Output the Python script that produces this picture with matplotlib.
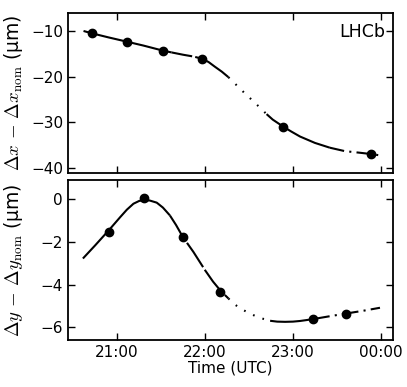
import numpy as np
import matplotlib
matplotlib.rcParams['font.family'] = 'sans-serif'
matplotlib.rcParams['font.sans-serif'] = ['DejaVu Sans']
matplotlib.rcParams['mathtext.fontset'] = 'cm'
matplotlib.rcParams['mathtext.default'] = 'it'
import matplotlib.pyplot as plt

# time in hours (UTC), 24 = 00:00 next day
# measured points
tx = [20.71, 21.11, 21.52, 21.97, 22.89, 23.886]
dx = [-10.5, -12.34, -14.3, -16.1, -30.95, -36.93]
ty = [20.906, 21.307, 21.747, 22.174, 23.23, 23.60]
dy = [-1.54, 0.05, -1.78, -4.33, -5.62, -5.38]

# fitted curves
cx_t = [20.617, 20.71, 20.90, 21.11, 21.30, 21.52, 21.62, 21.75, 21.87, 21.97,
        22.04, 22.11, 22.19, 22.265, 22.36, 22.455, 22.55, 22.62, 22.70, 22.77,
        22.89, 22.98, 23.08, 23.25, 23.42, 23.59, 23.76, 23.886, 23.98]
cx_v = [-10.0, -10.5, -11.4, -12.34, -13.2, -14.3, -14.7, -15.2, -15.6, -16.1,
        -16.8, -17.8, -18.9, -20.1, -21.9, -23.7, -25.4, -26.7, -28.2, -29.4,
        -30.95, -32.0, -33.1, -34.5, -35.55, -36.3, -36.65, -36.93, -37.2]
cx_seg = [(20.617, 21.62, '-'), (21.62, 21.97, (0, (10, 1.5))),
          (21.97, 22.265, '-'), (22.265, 22.70, (0, (0.8, 4))),
          (22.70, 23.42, '-'), (23.42, 23.98, (0, (7, 2.5, 1, 2.5)))]

cy_t = [20.61, 20.75, 20.91, 21.034, 21.11, 21.185, 21.25, 21.307, 21.37,
        21.45, 21.52, 21.60, 21.67, 21.747, 21.867, 22.0, 22.09, 22.18, 22.265,
        22.33, 22.40, 22.50, 22.59, 22.67, 22.74, 22.82, 22.91, 23.0, 23.08,
        23.15, 23.23, 23.40, 23.59, 23.80, 23.99]
cy_v = [-2.77, -2.15, -1.42, -0.83, -0.48, -0.20, -0.07, -0.03, -0.05,
        -0.15, -0.38, -0.75, -1.20, -1.76, -2.46, -3.32, -3.85, -4.30, -4.64,
        -4.90, -5.11, -5.33, -5.50, -5.61, -5.69, -5.73, -5.74, -5.73, -5.70,
        -5.66, -5.61, -5.49, -5.36, -5.22, -5.08]
cy_seg = [(20.61, 21.60, '-'), (21.60, 22.265, (0, (14, 1.5))),
          (22.265, 22.74, (0, (0.8, 4))), (22.74, 23.23, '-'),
          (23.23, 23.99, (0, (8, 2.5, 1, 2.5)))]

f, (ax1, ax2) = plt.subplots(2, 1, figsize=(4.07, 3.87), dpi=100, sharex=True)
plt.subplots_adjust(left=0.167, right=0.966, top=0.966, bottom=0.121, hspace=0.045)

for ax, t, v, segs, px, py in [(ax1, cx_t, cx_v, cx_seg, tx, dx),
                               (ax2, cy_t, cy_v, cy_seg, ty, dy)]:
    t = np.array(t)
    v = np.array(v)
    for a, b, ls in segs:
        m = (t >= a - 1e-6) & (t <= b + 1e-6)
        ax.plot(t[m], v[m], color='k', lw=1.5, ls=ls, solid_capstyle='butt',
                dash_capstyle='butt')
    ax.plot(px, py, 'o', color='k', ms=6)
    ax.tick_params(direction='in', top=True, right=True, length=5, width=1,
                   labelsize=11)
    for s in ax.spines.values():
        s.set_linewidth(1.3)

ax1.set_xlim(20.44, 24.14)
ax1.set_ylim(-41.1, -6.1)
ax2.set_ylim(-6.6, 0.9)
ax1.set_yticks([-10, -20, -30, -40])
ax2.set_yticks([0, -2, -4, -6])
ax2.set_xticks([21, 22, 23, 24])
ax2.set_xticklabels(['21:00', '22:00', '23:00', '00:00'])

ax1.set_ylabel(r'$\Delta x\,-\,\Delta x_{\rm nom}$ (μm)', fontsize=13.5)
ax2.set_ylabel(r'$\Delta y\,-\,\Delta y_{\rm nom}$ (μm)', fontsize=13.5)
ax2.set_xlabel('Time (UTC)', fontsize=11, labelpad=0)
ax1.text(0.975, 0.885, 'LHCb', transform=ax1.transAxes, ha='right', va='center',
         fontsize=12.5)
f.align_ylabels([ax1, ax2])

plt.savefig('out.png', dpi=100)
